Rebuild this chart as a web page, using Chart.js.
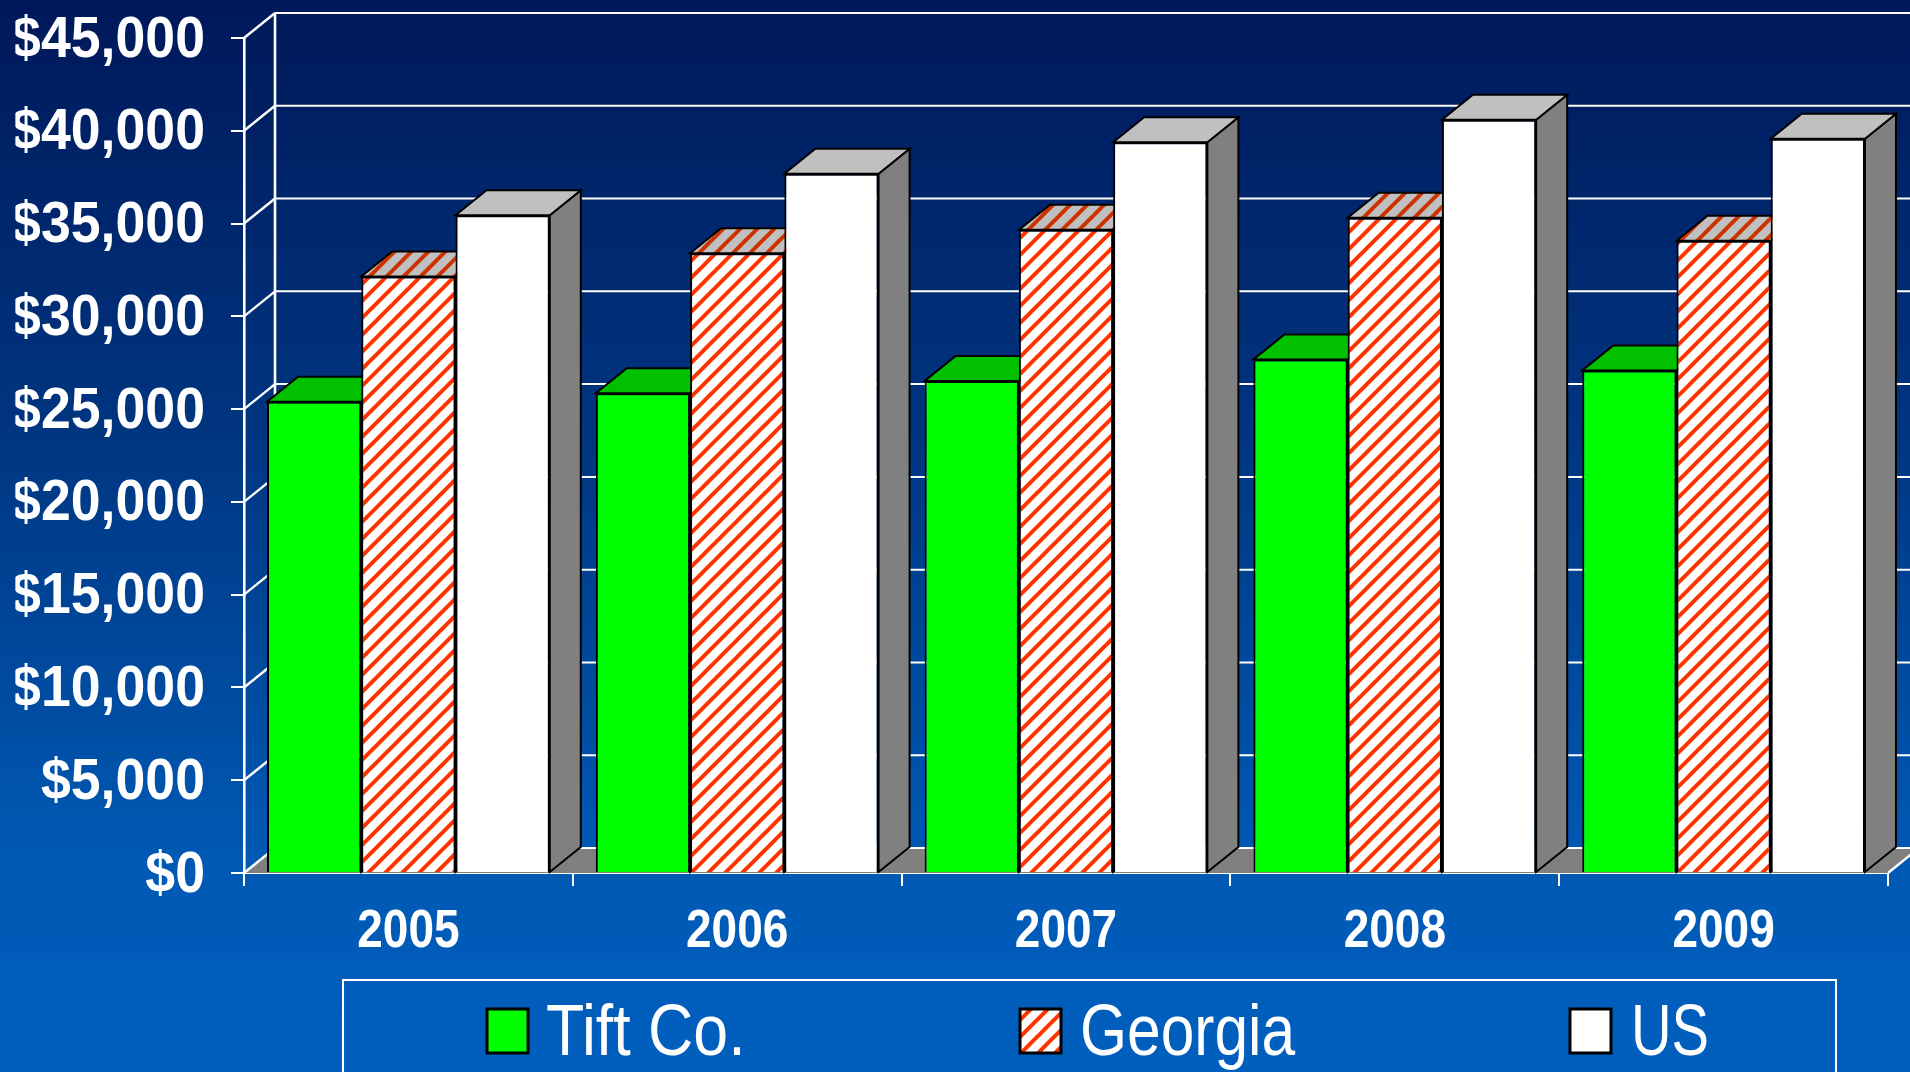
<!DOCTYPE html>
<html>
<head>
<meta charset="utf-8">
<style>html,body{margin:0;padding:0;background:#0060c0;overflow:hidden}canvas{display:block}</style>
<script src="https://cdn.jsdelivr.net/npm/chart.js@4"></script>
</head>
<body>
<canvas id="c" width="1910" height="1072"></canvas>
<script>
const categories = ['2005','2006','2007','2008','2009'];
const tiftCo  = [25400, 25850, 26520, 27680, 27080];
const georgia = [32150, 33400, 34660, 35310, 34070];
const us      = [35450, 37680, 39380, 40590, 39570];
const yTickLabels = ['$0','$5,000','$10,000','$15,000','$20,000','$25,000','$30,000','$35,000','$40,000','$45,000'];

const DX = 31, DY = 25;
const W = 1910, H = 1072;

function stripes(bg, fg) {
  const s = 17, p = document.createElement('canvas');
  p.width = p.height = s;
  const g = p.getContext('2d');
  g.fillStyle = bg; g.fillRect(0, 0, s, s);
  g.strokeStyle = fg; g.lineWidth = 4;
  for (let o = -s; o <= s; o += s) {
    g.beginPath(); g.moveTo(o - 2, s + 2); g.lineTo(o + s + 2, -2); g.stroke();
  }
  return g.createPattern(p, 'repeat');
}
const ctx0 = document.getElementById('c').getContext('2d');
const hatch = stripes('#ffffff', '#ff3300');
const hatchTop = stripes('#c0c0c0', '#cc3300');

function poly(ctx, pts, fill, stroke, lw) {
  ctx.beginPath();
  pts.forEach((p, i) => i ? ctx.lineTo(p[0], p[1]) : ctx.moveTo(p[0], p[1]));
  ctx.closePath();
  if (fill) { ctx.fillStyle = fill; ctx.fill(); }
  if (stroke) { ctx.strokeStyle = stroke; ctx.lineWidth = lw; ctx.lineJoin = 'miter'; ctx.stroke(); }
}
function line(ctx, x1, y1, x2, y2, c, lw) {
  ctx.beginPath(); ctx.moveTo(x1, y1); ctx.lineTo(x2, y2);
  ctx.strokeStyle = c; ctx.lineWidth = lw; ctx.stroke();
}
// Tick labels stay the library's own; they are only stretched about a pivot
function stretchLabels(scale, sx, sy, px, py, dy) {
  const orig = scale.drawLabels;
  scale.drawLabels = function (area) {
    const c = this.ctx;
    c.save();
    c.translate(px, py + dy); c.scale(sx, sy); c.translate(-px, -py);
    orig.call(this, area);
    c.restore();
  };
}

const scene = {
  id: 'scene',
  beforeDraw(chart) {
    const c = chart.ctx;
    if (!chart.$stretched) {
      chart.$stretched = true;
      stretchLabels(chart.scales.y, 0.925, 1, 205, 0, 2.5);
      stretchLabels(chart.scales.x, 1, 1.16, 0, 928, 0);
    }
    const g = c.createLinearGradient(0, 0, 0, H);
    g.addColorStop(0, '#00185a');
    g.addColorStop(0.4, '#003580');
    g.addColorStop(0.8, '#0059b4');
    g.addColorStop(1, '#005fbe');
    c.save(); c.fillStyle = g; c.fillRect(0, 0, W, H); c.restore();
  },
  beforeDatasetsDraw(chart) {
    const c = chart.ctx, y = chart.scales.y, a = chart.chartArea;
    c.save();
    const y0 = y.getPixelForValue(0);
    poly(c, [[a.left, y0], [a.right, y0], [a.right + DX, y0 - DY], [a.left + DX, y0 - DY]], '#808080');
    y.ticks.forEach(t => {
      const p = y.getPixelForValue(t.value);
      line(c, a.left, p, a.left + DX, p - DY, '#ffffff', 2.4);
      line(c, a.left + DX, p - DY, W, p - DY, '#ffffff', 2);
    });
    line(c, a.left + DX, a.top - DY, a.left + DX, y0 - DY, '#ffffff', 2.6);
    line(c, a.right, y0, a.right + DX, y0 - DY, '#ffffff', 2.4);
    const topFill = ['#00c000', hatchTop, '#c0c0c0'];
    categories.forEach((_, i) => {
      chart.data.datasets.forEach((ds, d) => {
        const b = chart.getDatasetMeta(d).data[i];
        const l = b.x - b.width / 2, r = b.x + b.width / 2;
        poly(c, [[r, b.base], [r + DX, b.base - DY], [r + DX, b.y - DY], [r, b.y]], '#808080', '#000', 2);
        poly(c, [[l, b.y], [r, b.y], [r + DX, b.y - DY], [l + DX, b.y - DY]], topFill[d], '#000', 2);
      });
    });
    c.restore();
  },
  afterDraw(chart) {
    const c = chart.ctx;
    c.save();
    c.strokeStyle = '#ffffff'; c.lineWidth = 2;
    c.strokeRect(343, 980, 1493, 120);
    const pos = [[487, 546, 0.87], [1020, 1080, 0.84], [1570, 1631, 0.78]];
    chart.data.datasets.forEach((ds, d) => {
      c.fillStyle = ds.backgroundColor;
      c.fillRect(pos[d][0], 1009, 41, 44);
      c.strokeStyle = '#000'; c.lineWidth = 3;
      c.strokeRect(pos[d][0], 1009, 41, 44);
      c.save();
      c.translate(pos[d][1], 1055);
      c.scale(pos[d][2], 1);
      c.fillStyle = '#ffffff';
      c.font = '72px "Liberation Sans", Arial, sans-serif';
      c.textAlign = 'left'; c.textBaseline = 'alphabetic';
      c.fillText(ds.label, 0, 0);
      c.restore();
    });
    c.restore();
  }
};

new Chart(ctx0, {
  type: 'bar',
  data: {
    labels: categories,
    datasets: [
      { label: 'Tift Co.', data: tiftCo,  backgroundColor: '#00ff00' },
      { label: 'Georgia',  data: georgia, backgroundColor: hatch },
      { label: 'US',       data: us,      backgroundColor: '#ffffff' }
    ]
  },
  options: {
    responsive: false,
    animation: false,
    devicePixelRatio: 1,
    layout: { padding: { top: 38, right: 22, left: 0, bottom: 0 } },
    datasets: { bar: { categoryPercentage: 0.86, barPercentage: 1, borderWidth: 2, borderColor: '#000000', borderSkipped: 'bottom' } },
    plugins: { legend: { display: false }, tooltip: { enabled: false }, title: { display: false } },
    scales: {
      x: {
        afterFit(s) { s.height = 199; s.paddingLeft = 0; s.paddingRight = 0; },
        grid: { display: true, drawOnChartArea: false, color: '#ffffff', lineWidth: 2, tickLength: 13, offset: true },
        border: { display: true, color: '#ffffff', width: 2 },
        ticks: {
          color: '#ffffff', padding: 18, maxRotation: 0,
          font: { family: '"Liberation Sans", Arial, sans-serif', size: 46, weight: 'bold' }
        }
      },
      y: {
        min: 0, max: 45000,
        afterFit(s) { s.width = 244; s.paddingTop = 0; s.paddingBottom = 0; },
        grid: { display: true, drawOnChartArea: false, color: '#ffffff', lineWidth: 2, tickLength: 13 },
        border: { display: true, color: '#ffffff', width: 2.6 },
        ticks: {
          stepSize: 5000, color: '#ffffff', padding: 26,
          font: { family: '"Liberation Sans", Arial, sans-serif', size: 58, weight: 'bold' },
          callback: (v, i) => yTickLabels[i]
        }
      }
    }
  },
  plugins: [scene]
});
</script>
</body>
</html>
